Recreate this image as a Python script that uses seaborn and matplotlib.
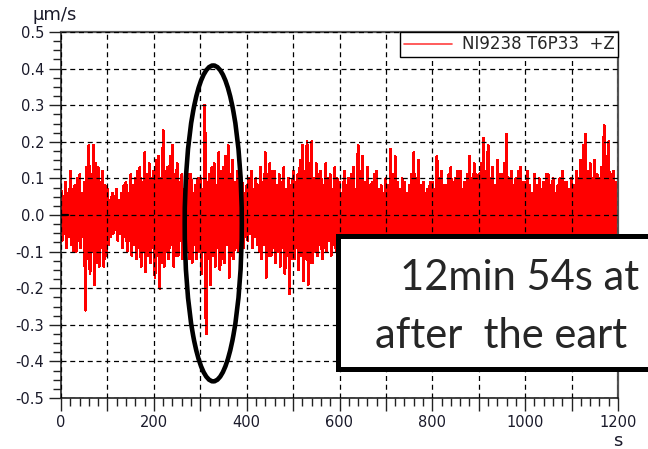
import numpy as np
import pandas as pd
import matplotlib
matplotlib.use("Agg")
import matplotlib.pyplot as plt
import seaborn as sns
from matplotlib.patches import Ellipse, Rectangle
from matplotlib.ticker import MultipleLocator, FuncFormatter

# ---- data: positive and negative peaks, 5 s bins ----
pos_peaks = [
    0.07, 0.05, 0.09, 0.06, 0.12, 0.07, 0.08, 0.10, 0.11, 0.06, 0.09, 0.13, 0.19, 0.11, 0.19, 0.14, 0.13, 0.09, 0.12, 0.08,
    0.07, 0.04, 0.06, 0.05, 0.07, 0.04, 0.06, 0.08, 0.09, 0.06, 0.11, 0.08, 0.10, 0.12, 0.13, 0.09, 0.17, 0.11, 0.14, 0.10,
    0.12, 0.15, 0.16, 0.10, 0.23, 0.12, 0.13, 0.16, 0.19, 0.11, 0.14, 0.09, 0.11, 0.07, 0.09, 0.11, 0.11, 0.06, 0.08, 0.10,
    0.10, 0.07, 0.30, 0.09, 0.11, 0.13, 0.14, 0.08, 0.17, 0.12, 0.13, 0.16, 0.19, 0.11, 0.15, 0.09, 0.12, 0.07, 0.09, 0.06,
    0.08, 0.10, 0.12, 0.07, 0.10, 0.08, 0.13, 0.09, 0.17, 0.11, 0.14, 0.12, 0.12, 0.08, 0.11, 0.09, 0.13, 0.07, 0.10, 0.08,
    0.12, 0.09, 0.11, 0.15, 0.19, 0.12, 0.20, 0.14, 0.20, 0.10, 0.14, 0.11, 0.12, 0.08, 0.14, 0.10, 0.11, 0.07, 0.13, 0.10,
    0.09, 0.06, 0.12, 0.08, 0.10, 0.11, 0.13, 0.07, 0.19, 0.12, 0.16, 0.09, 0.13, 0.08, 0.09, 0.11, 0.12, 0.07, 0.08, 0.06,
    0.10, 0.08, 0.18, 0.11, 0.16, 0.09, 0.07, 0.10, 0.09, 0.06, 0.08, 0.11, 0.17, 0.10, 0.15, 0.08, 0.09, 0.06, 0.07, 0.09,
    0.09, 0.07, 0.16, 0.10, 0.12, 0.08, 0.08, 0.11, 0.13, 0.09, 0.10, 0.12, 0.12, 0.07, 0.09, 0.11, 0.16, 0.10, 0.14, 0.11,
    0.11, 0.14, 0.21, 0.12, 0.19, 0.10, 0.13, 0.08, 0.15, 0.11, 0.11, 0.14, 0.22, 0.10, 0.12, 0.08, 0.10, 0.12, 0.13, 0.09,
    0.09, 0.12, 0.08, 0.06, 0.11, 0.08, 0.10, 0.07, 0.09, 0.11, 0.11, 0.08, 0.10, 0.06, 0.08, 0.10, 0.12, 0.09, 0.09, 0.07,
    0.10, 0.08, 0.12, 0.10, 0.15, 0.19, 0.22, 0.12, 0.14, 0.10, 0.15, 0.11, 0.10, 0.13, 0.245, 0.16, 0.20, 0.11, 0.12, 0.09,
]
neg_peaks = [
    -0.07, -0.05, -0.09, -0.06, -0.08, -0.10, -0.10, -0.07, -0.09, -0.06, -0.26, -0.12, -0.16, -0.10, -0.19, -0.13, -0.14, -0.09, -0.14, -0.11,
    -0.08, -0.06, -0.05, -0.04, -0.07, -0.05, -0.09, -0.06, -0.10, -0.07, -0.11, -0.08, -0.12, -0.09, -0.14, -0.10, -0.155, -0.11, -0.13, -0.09,
    -0.17, -0.11, -0.20, -0.13, -0.14, -0.10, -0.12, -0.08, -0.14, -0.11, -0.11, -0.07, -0.12, -0.09, -0.10, -0.12, -0.13, -0.08, -0.12, -0.10,
    -0.16, -0.10, -0.325, -0.12, -0.19, -0.11, -0.14, -0.09, -0.15, -0.12, -0.13, -0.08, -0.17, -0.11, -0.12, -0.09, -0.10, -0.07, -0.09, -0.06,
    -0.07, -0.05, -0.09, -0.06, -0.08, -0.10, -0.12, -0.08, -0.17, -0.11, -0.11, -0.09, -0.13, -0.10, -0.14, -0.09, -0.16, -0.11, -0.215, -0.12,
    -0.12, -0.09, -0.15, -0.11, -0.18, -0.12, -0.19, -0.13, -0.13, -0.10, -0.11, -0.08, -0.12, -0.09, -0.10, -0.07, -0.11, -0.08, -0.10, -0.12,
    -0.12, -0.08, -0.09, -0.11, -0.14, -0.10, -0.11, -0.07, -0.10, -0.12, -0.15, -0.09, -0.08, -0.10, -0.13, -0.08, -0.12, -0.09, -0.10, -0.11,
    -0.11, -0.08, -0.16, -0.10, -0.09, -0.12, -0.12, -0.08, -0.14, -0.10, -0.10, -0.07, -0.08, -0.11, -0.13, -0.09, -0.11, -0.08, -0.15, -0.10,
    -0.12, -0.09, -0.09, -0.07, -0.10, -0.12, -0.14, -0.09, -0.13, -0.10, -0.11, -0.08, -0.16, -0.11, -0.10, -0.07, -0.12, -0.09, -0.09, -0.11,
    -0.13, -0.08, -0.15, -0.10, -0.11, -0.09, -0.10, -0.07, -0.12, -0.10, -0.14, -0.09, -0.09, -0.12, -0.11, -0.08, -0.13, -0.10, -0.10, -0.07,
    -0.12, -0.09, -0.16, -0.11, -0.11, -0.08, -0.09, -0.12, -0.14, -0.10, -0.12, -0.08, -0.10, -0.07, -0.13, -0.10, -0.11, -0.09, -0.15, -0.10,
    -0.12, -0.08, -0.10, -0.12, -0.14, -0.09, -0.09, -0.07, -0.13, -0.10, -0.11, -0.08, -0.17, -0.11, -0.12, -0.09, -0.10, -0.07, -0.13, -0.10,
]
bin_seconds = 5
series_label = "NI9238 T6P33  +Z"
x_unit = "s"
y_unit = "µm/s"
note_line1 = "12min 54s at"
note_line2 = "after  the eart"

# interleave into one time series
t_pos = np.arange(len(pos_peaks)) * bin_seconds
t_neg = t_pos + bin_seconds / 2
times = np.empty(2 * len(pos_peaks))
vals = np.empty(2 * len(pos_peaks))
times[0::2], times[1::2] = t_pos, t_neg
vals[0::2], vals[1::2] = pos_peaks, neg_peaks
df = pd.DataFrame({"t": times, "v": vals})

# ---- figure ----
sns.set_style("ticks")
plt.rcParams["font.family"] = ["DejaVu Sans"]
W, H = 648, 449
fig = plt.figure(figsize=(W / 100, H / 100), dpi=100)
ax = fig.add_axes([61 / W, 1 - 398 / H, (618 - 61) / W, (398 - 32) / H])

sns.lineplot(data=df, x="t", y="v", color="#ff0000", linewidth=1.4,
             estimator=None, sort=True, ax=ax, label=series_label,
             antialiased=False)

ax.set_xlim(0, 1200)
ax.set_ylim(-0.5, 0.5)
ax.set_xlabel("")
ax.set_ylabel("")

ax.xaxis.set_major_locator(MultipleLocator(100))
ax.xaxis.set_minor_locator(MultipleLocator(20))
ax.xaxis.set_major_formatter(FuncFormatter(
    lambda x, p: f"{int(round(x))}" if int(round(x)) % 200 == 0 else ""))
ax.yaxis.set_major_locator(MultipleLocator(0.1))
ax.yaxis.set_minor_locator(MultipleLocator(0.025))
ax.yaxis.set_major_formatter(FuncFormatter(
    lambda y, p: "0.0" if abs(y) < 1e-9 else f"{y:.1f}"))

ax.tick_params(which="major", length=9, width=1, labelsize=10.5, pad=3,
               color="#222222", labelcolor="#1a1a2a")
ax.tick_params(which="minor", length=6, width=1, color="#222222")

ax.grid(True, which="major", color="black", linestyle=(0, (4, 3)), linewidth=0.9)
ax.set_axisbelow(False)

for s in ["left", "bottom"]:
    ax.spines[s].set_color("#222222")
    ax.spines[s].set_linewidth(1.2)
for s in ["top", "right"]:
    ax.spines[s].set_color("#555555")
    ax.spines[s].set_linewidth(1.6)

ax.axhline(0, xmin=0, xmax=0.013, color="black", lw=1.6, zorder=5)

leg = ax.legend(loc="upper right", fontsize=12, frameon=True, fancybox=False,
                edgecolor="black", framealpha=1, borderaxespad=0,
                handlelength=2.9, handletextpad=0.6, borderpad=0.2)
leg.get_frame().set_linewidth(1.0)
for h in leg.get_lines():
    h.set_color("#ff4040")
    h.set_linewidth(1.2)
    h.set_antialiased(True)

fig.text(32 / W, 1 - 15 / H, y_unit, fontsize=13, ha="left", va="center",
         color="#1a1a2a")
fig.text(618 / W, 1 - 441 / H, x_unit, fontsize=13, ha="center", va="center",
         color="#1a1a2a")

# annotation ellipse around the spike
ell = Ellipse((328, -0.023), width=123, height=0.863, fill=False,
              lw=3.3, ec="black", clip_on=False, zorder=6)
ax.add_patch(ell)

# text box (clipped by figure edge)
rect = Rectangle((337.5 / W, 1 - 369 / H), (680 - 337.5) / W, (369 - 236) / H,
                 transform=fig.transFigure, fc="white", ec="black", lw=3.6,
                 clip_on=False, zorder=10)
fig.add_artist(rect)
fig.text(400 / W, 1 - 290 / H, note_line1, fontsize=30, family="Lato",
         ha="left", va="baseline", zorder=11)
fig.text(375 / W, 1 - 348 / H, note_line2, fontsize=30, family="Lato",
         ha="left", va="baseline", zorder=11)

fig.savefig("out.png", dpi=100)
